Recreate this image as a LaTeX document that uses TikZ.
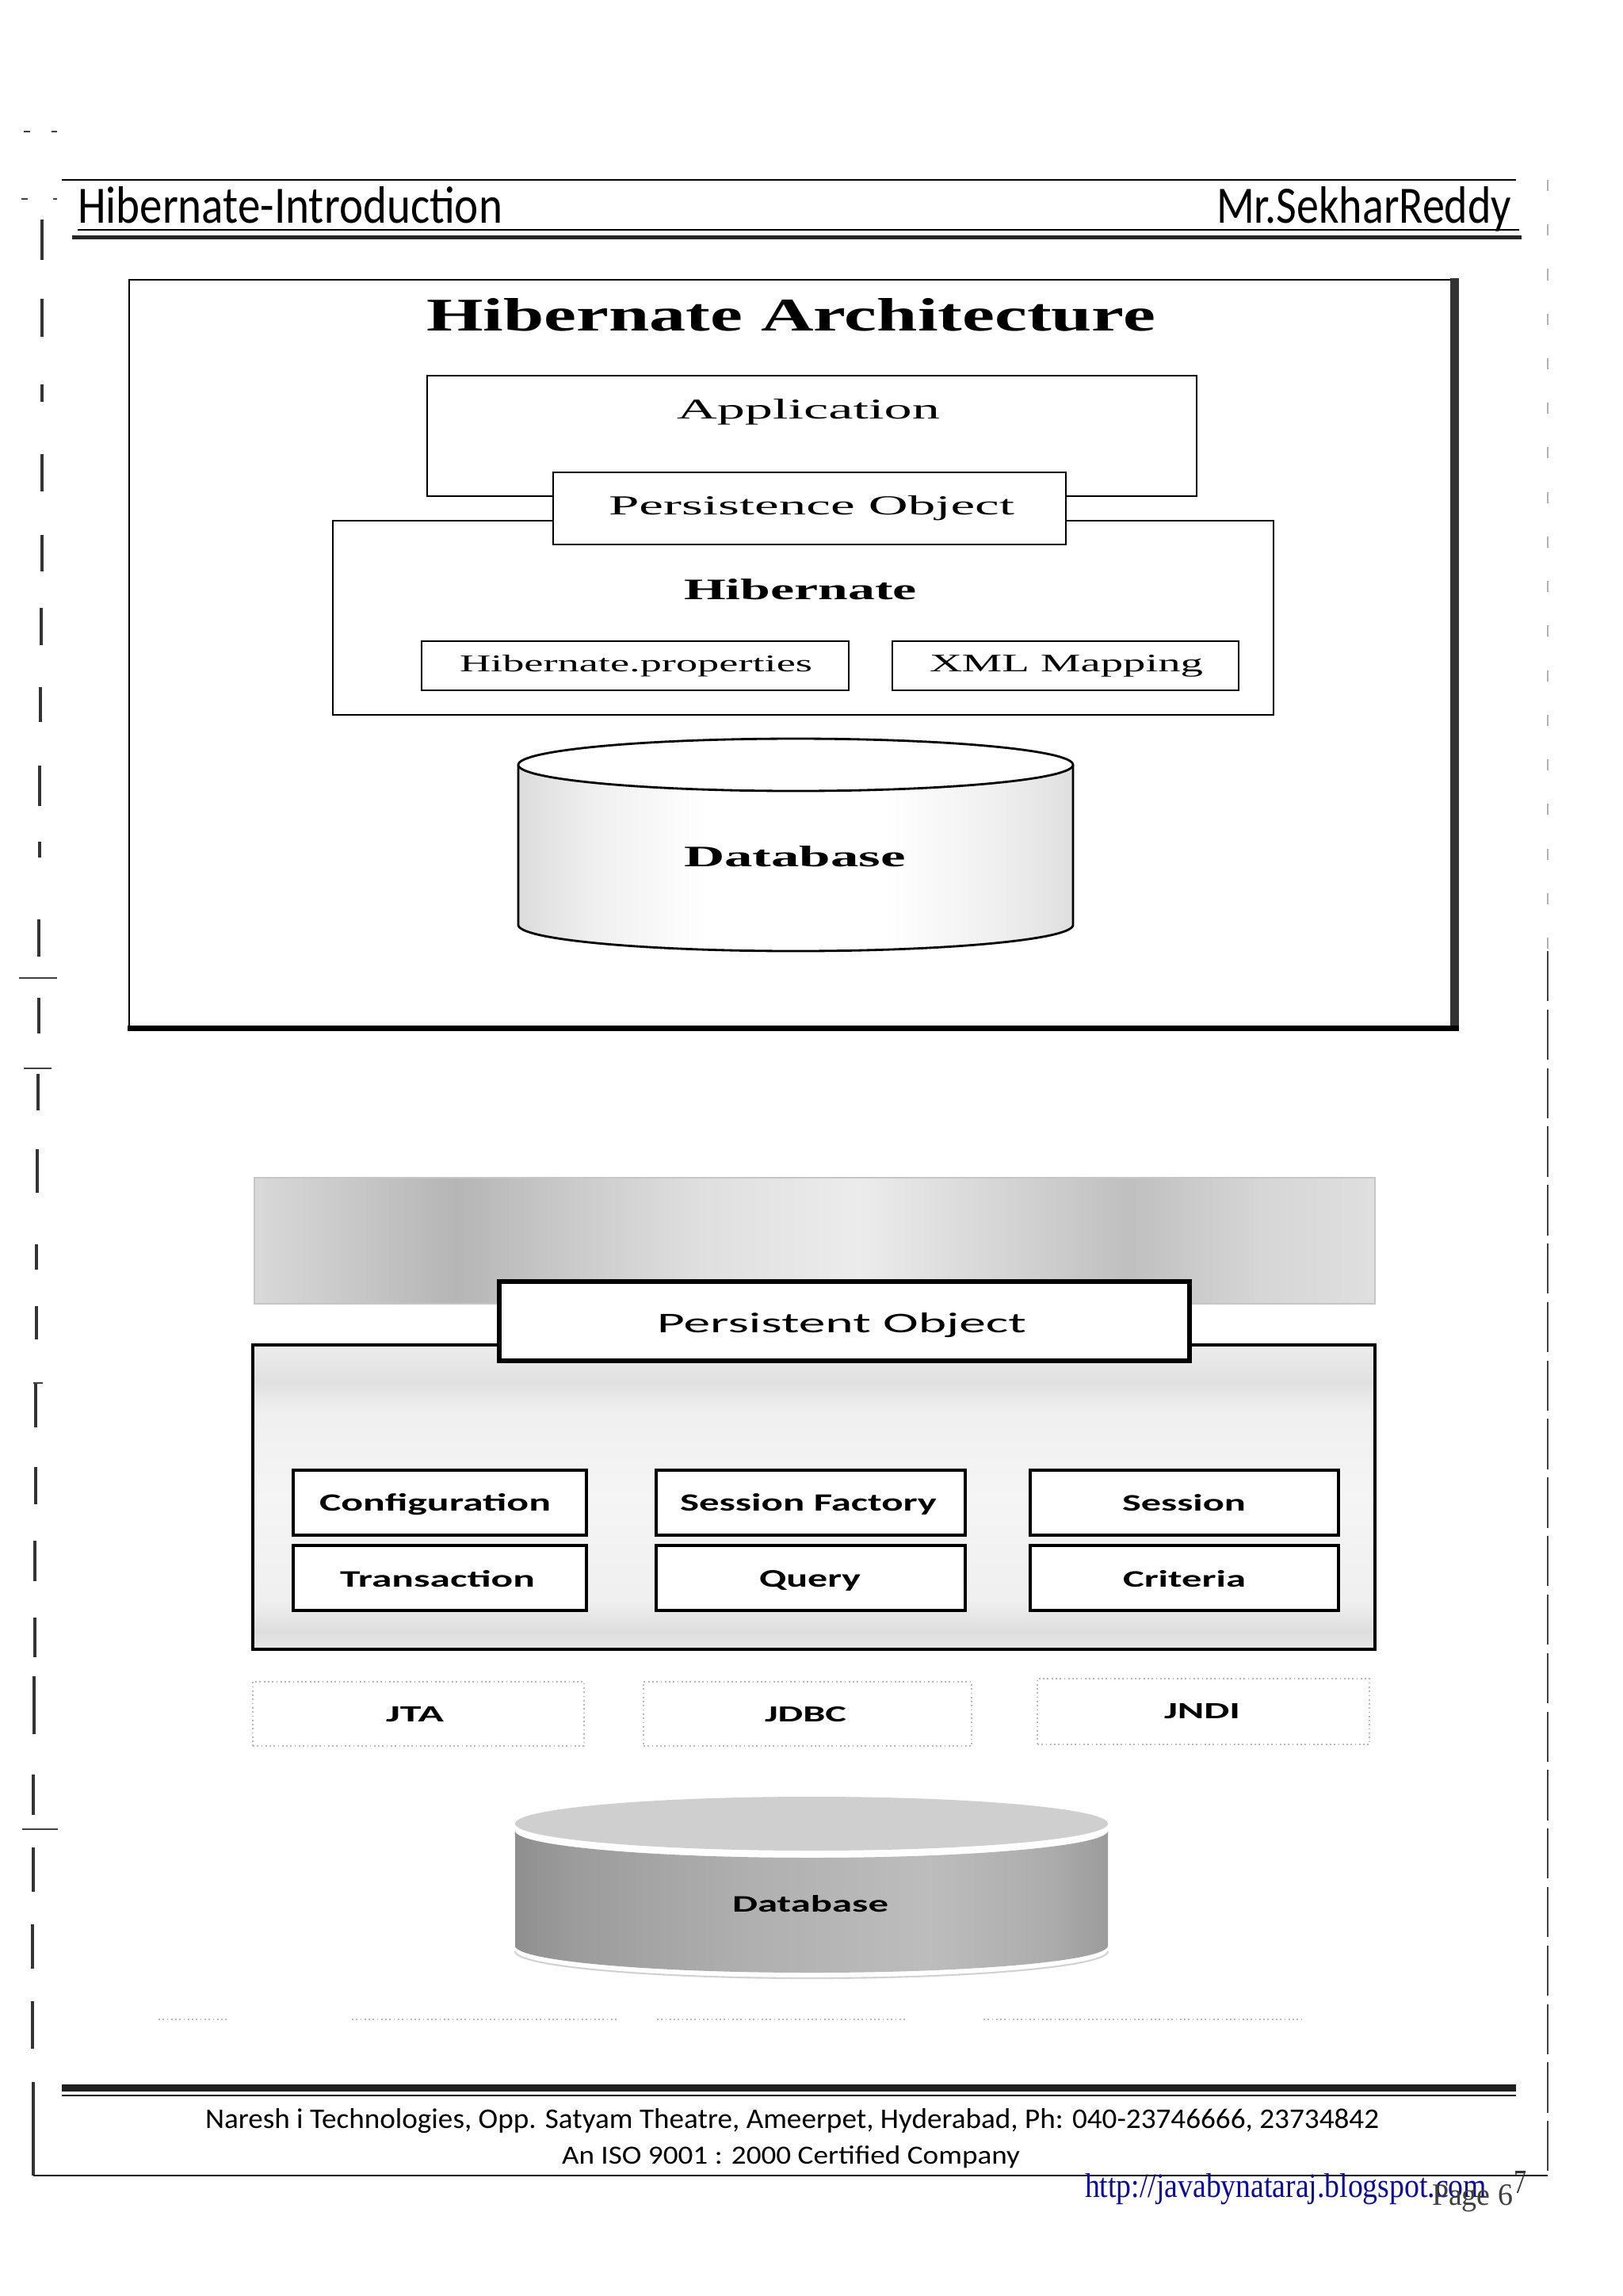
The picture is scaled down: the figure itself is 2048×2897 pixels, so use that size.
\documentclass[tikz,border=0pt]{standalone}
\usepackage{graphicx}
\usepackage{fontspec}
\setmainfont{Liberation Serif}
\newfontfamily\calib{Carlito}
\usetikzlibrary{fit}
\newcommand{\fitbox}[3]{\resizebox{#1mm}{#2mm}{#3}}
\definecolor{urlblue}{RGB}{12,12,150}
\pgfdeclarehorizontalshading{bandshade}{100bp}{color(0bp)=(gray!30); color(25bp)=(gray!30); color(29bp)=(gray!42); color(34bp)=(gray!58); color(39bp)=(gray!42); color(45bp)=(gray!25); color(52bp)=(gray!15); color(59bp)=(gray!35); color(64bp)=(gray!50); color(70bp)=(gray!32); color(75bp)=(gray!25); color(100bp)=(gray!25)}
\pgfdeclareverticalshading{boxshade}{100bp}{color(0bp)=(gray!18); color(25bp)=(gray!18); color(28bp)=(gray!26); color(33bp)=(gray!12); color(50bp)=(gray!8); color(64bp)=(gray!12); color(69bp)=(gray!24); color(75bp)=(gray!14); color(100bp)=(gray!14)}
\pgfdeclarehorizontalshading{dbonesides}{100bp}{color(0bp)=(gray!28); color(25bp)=(gray!28); color(32bp)=(gray!12); color(42bp)=(white); color(58bp)=(white); color(68bp)=(gray!12); color(75bp)=(gray!25); color(100bp)=(gray!25)}
\pgfdeclarehorizontalshading{dbtwobody}{100bp}{color(0bp)=(gray!88); color(25bp)=(gray!88); color(30bp)=(gray!78); color(45bp)=(gray!62); color(60bp)=(gray!52); color(70bp)=(gray!65); color(75bp)=(gray!78); color(100bp)=(gray!78)}
\begin{document}
\begin{tikzpicture}[x=0.1mm,y=-0.1mm,
  txt/.style={inner sep=0pt, outer sep=0pt, anchor=base west},
  thinbox/.style={draw=black, line width=0.6pt, inner sep=0pt},
  boldbox/.style={draw=black, line width=1.4pt, inner sep=0pt, fill=white},
  dotbox/.style={draw=gray!55, densely dotted, line width=0.5pt, inner sep=0pt},
  margin/.style={line width=0.9pt, black!80}]
\useasboundingbox (0,0) rectangle (2048,2897);
\fill[white] (0,0) rectangle (2048,2897);

% ---------- header ----------
\draw[line width=0.5pt] (78,227) -- (1913,227);
\node[txt] (hdrL) at (98,281) {\fitbox{53.6}{4.6}{\calib Hibernate-Introduction}};
\node[txt] (hdrR) at (1535,281) {\fitbox{37.2}{4.6}{\calib Mr.SekharReddy}};
\draw[line width=0.45pt] (98,290) -- (1917,290);
\fill[black!85] (91,297) rectangle (1920,302);

% ---------- left / right margin marks ----------
\foreach \a/\b/\x in {277/328/53,377/425/53,485/507/53,573/620/53,675/721/53,767/814/52,867/911/51,966/1017/50,1062/1082/50,1160/1207/49,1259/1304/49,1355/1401/48,1450/1505/47,1570/1602/46,1648/1690/46,1745/1801/45,1851/1898/45,1944/1995/44,2041/2091/44,2115/2188/43,2239/2290/42,2331/2387/42,2428/2484/41,2525/2585/41,2627/2745/42}
  \draw[margin] (\x,\a) -- (\x,\b);
\foreach \y/\a/\b in {1234/24/72,1348/30/65,1745/42/54,2308/28/73,166/30/38,166/65/72,251/27/35,251/67/72}
  \draw[line width=0.5pt, black!75] (\a,\y) -- (\b,\y);
\draw[line width=0.5pt, gray!60, dash pattern=on 4pt off 12pt] (1953,227) -- (1953,1200);
\draw[line width=0.6pt, black!75, dash pattern=on 18pt off 3pt] (1953,1200) -- (1953,2746);

% ---------- top diagram ----------
\node[thinbox, fit={(163,353) (1839,1299)}] (frame) {};
\fill[black!80] (1830,351) rectangle (1841,1300);
\fill[black] (161,1294) rectangle (1841,1301);
\node[txt] (title) at (538,417) {\fitbox{92.0}{4.1}{\bfseries Hibernate Architecture}};

\node[thinbox, fit={(420,657) (1607,902)}] (hib) {};
\node[thinbox, fit={(539,474) (1510,626)}] (app) {};
\node[thinbox, fill=white, fit={(698,596) (1345,687)}] (po) {};
\node[txt] (appT) at (854,528) {\fitbox{33.2}{2.5}{Application}};
\node[txt] (poT) at (768,649) {\fitbox{51.2}{2.4}{Persistence Object}};
\node[txt] (hibT) at (863,756) {\fitbox{29.4}{2.6}{\bfseries Hibernate}};
\node[thinbox, fit={(532,809) (1071,871)}] (hprop) {};
\node[thinbox, fit={(1126,809) (1563,871)}] (xml) {};
\node[txt] (hpropT) at (580,847) {\fitbox{44.5}{2.1}{Hibernate.properties}};
\node[txt] (xmlT) at (1173,847) {\fitbox{34.5}{2.1}{XML Mapping}};

% database cylinder 1
\path[shading=dbonesides] (654,965) -- (654,1167) arc[start angle=180, end angle=0, x radius=350, y radius=33] -- (1354,965) -- cycle;
\draw[line width=0.8pt] (654,965) -- (654,1167) arc[start angle=180, end angle=0, x radius=350, y radius=33] -- (1354,965);
\draw[line width=0.8pt, fill=white] (1004,965) ellipse [x radius=350, y radius=33];
\coordinate (db1) at (1004,1080);
\node[txt] (db1T) at (863,1093) {\fitbox{28.0}{2.6}{\bfseries Database}};

% ---------- bottom diagram ----------
\node[draw=gray!45, line width=0.4pt, inner sep=0pt, shading=bandshade, fit={(321,1486) (1735,1645)}] (band) {};
\node[draw=black, line width=1.4pt, inner sep=0pt, shading=boxshade, fit={(319,1697) (1735,2081)}] (core) {};
\node[boldbox, line width=1.7pt, fit={(630,1617) (1501,1717)}] (po2) {};
\node[txt] (po2T) at (829,1681) {\fitbox{46.6}{2.5}{\calib Persistent Object}};

\node[boldbox, fit={(370,1855) (740,1937)}] (conf) {};
\node[boldbox, fit={(828,1855) (1218,1937)}] (sf) {};
\node[boldbox, fit={(1300,1855) (1689,1937)}] (sess) {};
\node[boldbox, fit={(370,1950) (740,2032)}] (tx) {};
\node[boldbox, fit={(828,1950) (1218,2032)}] (qry) {};
\node[boldbox, fit={(1300,1950) (1689,2032)}] (crit) {};
\node[txt] (confT) at (403,1906) {\fitbox{29.2}{2.2}{\calib\bfseries Configuration}};
\node[txt] (sfT) at (858,1906) {\fitbox{32.4}{2.2}{\calib\bfseries Session Factory}};
\node[txt] (sessT) at (1416,1906) {\fitbox{15.6}{2.1}{\calib\bfseries Session}};
\node[txt] (txT) at (429,2002) {\fitbox{24.6}{2.1}{\calib\bfseries Transaction}};
\node[txt] (qryT) at (958,2002) {\fitbox{12.8}{2.1}{\calib\bfseries Query}};
\node[txt] (critT) at (1417,2002) {\fitbox{15.5}{2.1}{\calib\bfseries Criteria}};

\node[dotbox, fit={(319,2122) (737,2203)}] (jta) {};
\node[dotbox, fit={(812,2122) (1226,2203)}] (jdbc) {};
\node[dotbox, fit={(1309,2118) (1728,2201)}] (jndi) {};
\node[txt] (jtaT) at (487,2172) {\fitbox{7.3}{1.9}{\calib\bfseries JTA}};
\node[txt] (jdbcT) at (965,2172) {\fitbox{10.3}{1.9}{\calib\bfseries JDBC}};
\node[txt] (jndiT) at (1469,2168) {\fitbox{9.6}{1.9}{\calib\bfseries JNDI}};

% database cylinder 2
\draw[gray!35, line width=0.6pt] (650,2462) arc[start angle=180, end angle=0, x radius=374, y radius=34];
\path[shading=dbtwobody] (650,2310) -- (650,2455) arc[start angle=180, end angle=0, x radius=374, y radius=34] -- (1398,2310) arc[start angle=0, end angle=180, x radius=374, y radius=34] -- cycle;
\fill[gray!38] (1024,2301) ellipse [x radius=374, y radius=34];
\coordinate (db2) at (1024,2400);
\node[txt] (db2T) at (924,2412) {\fitbox{19.7}{2.1}{\calib\bfseries Database}};
\foreach \a/\b in {200/287,444/780,829/1143,1241/1642}
  \draw[gray!55, line width=0.5pt, densely dotted] (\a,2548) -- (\b,2548);

% ---------- footer ----------
\fill[black!88] (78,2630) rectangle (1913,2639);
\draw[line width=0.5pt] (78,2644) -- (1913,2644);
\node[txt] (addr) at (259,2685) {\fitbox{148.1}{2.5}{\calib Naresh i Technologies, Opp. Satyam Theatre, Ameerpet, Hyderabad, Ph: 040-23746666, 23734842}};
\node[txt] (iso) at (709,2730) {\fitbox{57.8}{2.3}{\calib An ISO 9001 : 2000 Certified Company}};
\draw[line width=0.6pt] (42,2745) -- (1953,2745);
\node[txt] (url) at (1369,2772) {\fitbox{50.7}{3.0}{\color{urlblue}http://javabynataraj.blogspot.com}};
\node[txt] (page) at (1807,2782) {\fitbox{10.2}{2.6}{\color{black!75}Page 6}};
\node[txt] (seven) at (1910,2767) {\fitbox{1.6}{2.8}{\color{black!80}7}};
\end{tikzpicture}
\end{document}
